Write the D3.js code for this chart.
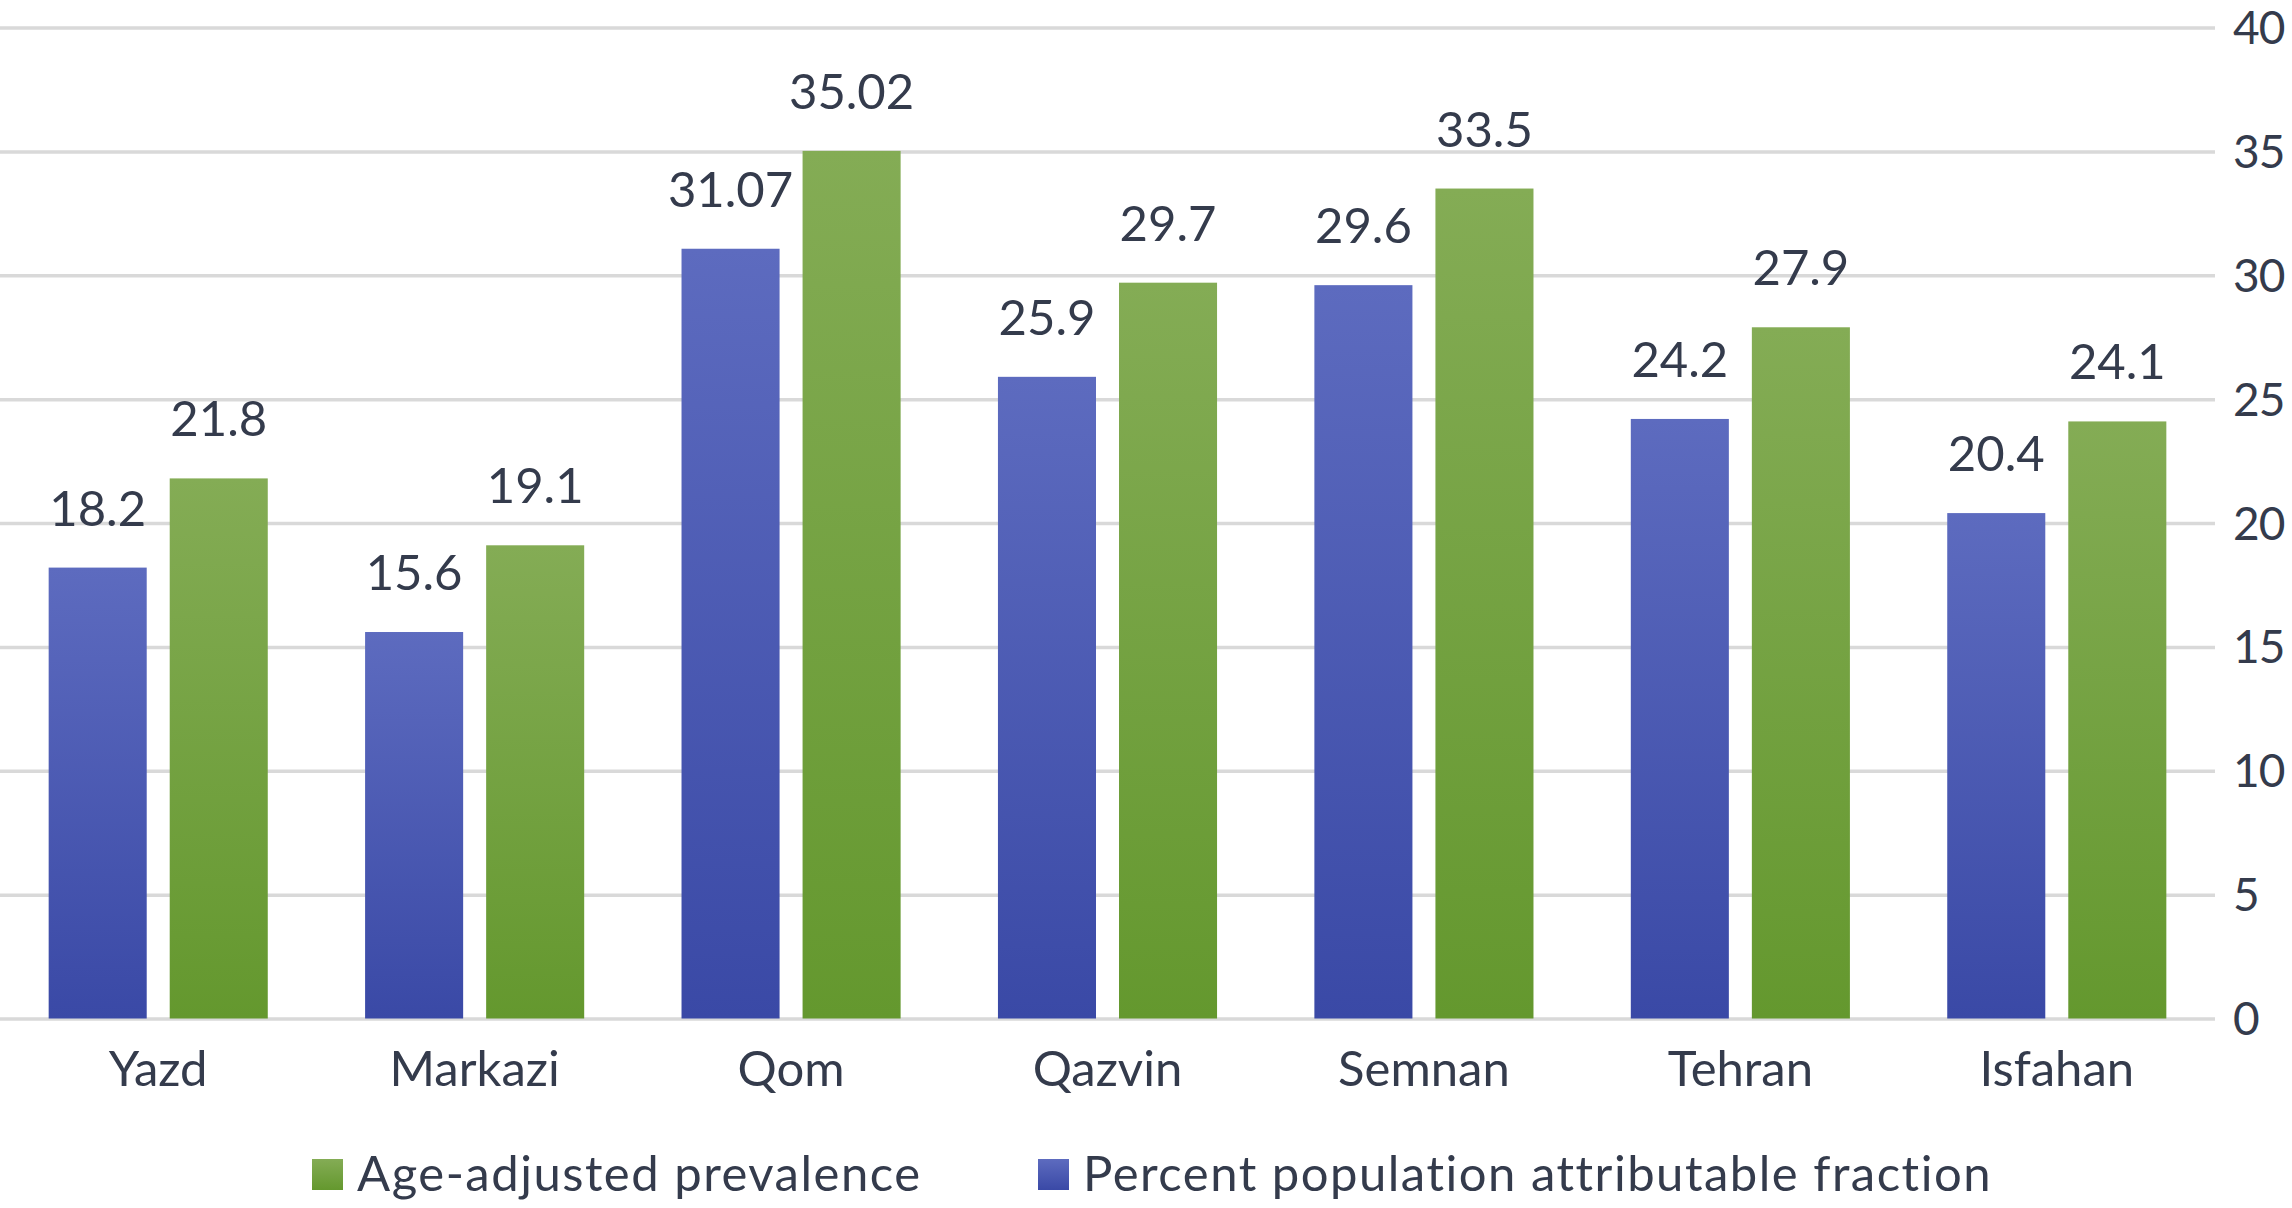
<!DOCTYPE html>
<html>
<head>
<meta charset="utf-8">
<script src="https://cdn.jsdelivr.net/npm/d3@7"></script>
<style>
  html, body { margin: 0; padding: 0; background: #ffffff; }
  svg { display: block; }
  text { font-family: Lato, "Open Sans", sans-serif; fill: #343b4c; }
</style>
</head>
<body>
<svg id="chart" width="2292" height="1208"></svg>
<script>
const categories = ["Yazd", "Markazi", "Qom", "Qazvin", "Semnan", "Tehran", "Isfahan"];
const seriesNames = ["Percent population attributable fraction", "Age-adjusted prevalence"];
const pafValues = [18.2, 15.6, 31.07, 25.9, 29.6, 24.2, 20.4];
const prevalenceValues = [21.8, 19.1, 35.02, 29.7, 33.5, 27.9, 24.1];
const yTicks = [0, 5, 10, 15, 20, 25, 30, 35, 40];
const legendOrder = ["Age-adjusted prevalence", "Percent population attributable fraction"];

const seriesValues = {
  "Percent population attributable fraction": pafValues,
  "Age-adjusted prevalence": prevalenceValues
};

const W = 2292, H = 1208;
const plot = { left: 0, right: 2215, top: 27.5, bottom: 1018.5 };
const FS = 49;

const svg = d3.select("#chart");
const defs = svg.append("defs");

const grads = {
  "Percent population attributable fraction": ["#5d6bbf", "#3a49a6"],
  "Age-adjusted prevalence": ["#84ac55", "#64982e"]
};
const gradId = {};
seriesNames.forEach((s, i) => {
  const id = "grad" + i;
  gradId[s] = id;
  const g = defs.append("linearGradient").attr("id", id)
    .attr("x1", 0).attr("y1", 0).attr("x2", 0).attr("y2", 1);
  g.append("stop").attr("offset", "0%").attr("stop-color", grads[s][0]);
  g.append("stop").attr("offset", "100%").attr("stop-color", grads[s][1]);
});

const y = d3.scaleLinear().domain([0, 40]).range([plot.bottom, plot.top]);
const x = d3.scaleBand().domain(categories).range([plot.left, plot.right]).padding(0);
const xs = d3.scaleBand().domain(seriesNames).range([0, x.bandwidth()])
  .paddingInner(0.19).paddingOuter(0.402);

// gridlines + right axis labels
const yAxis = svg.append("g")
  .attr("transform", `translate(${plot.right},0)`)
  .call(d3.axisRight(y).tickValues(yTicks).tickSizeInner(-(plot.right - plot.left)).tickSizeOuter(0).tickPadding(18));
yAxis.select(".domain").remove();
yAxis.selectAll(".tick line").attr("stroke", "#d9d9d9").attr("stroke-width", 3.5);
yAxis.selectAll(".tick text").style("font-size", "46px").style("letter-spacing", "-1px")
  .attr("text-anchor", "start").attr("dy", "0.35em");

// bars
const groups = svg.append("g").selectAll("g").data(categories).join("g")
  .attr("transform", d => `translate(${x(d)},0)`);

groups.selectAll("rect")
  .data((d, i) => seriesNames.map(s => ({ s, v: seriesValues[s][i] })))
  .join("rect")
  .attr("x", d => xs(d.s))
  .attr("width", xs.bandwidth())
  .attr("y", d => y(d.v))
  .attr("height", d => y(0) - y(d.v))
  .attr("fill", d => `url(#${gradId[d.s]})`);

groups.selectAll("text.lbl")
  .data((d, i) => seriesNames.map(s => ({ s, v: seriesValues[s][i] })))
  .join("text")
  .attr("class", "lbl")
  .attr("x", d => xs(d.s) + xs.bandwidth() / 2)
  .attr("y", d => y(d.v) - 42)
  .attr("text-anchor", "middle")
  .style("font-size", FS + "px")
  .text(d => String(d.v));

// category axis
const xAxis = svg.append("g")
  .attr("transform", `translate(0,${plot.bottom})`)
  .call(d3.axisBottom(x).tickSize(0).tickPadding(33));
xAxis.select(".domain").remove();
xAxis.selectAll(".tick text").style("font-size", FS + "px");

// legend
const legend = svg.append("g").attr("transform", "translate(0,1191)");
const legendItems = [
  { name: legendOrder[0], x: 312 },
  { name: legendOrder[1], x: 1038 }
];
const li = legend.selectAll("g").data(legendItems).join("g")
  .attr("transform", d => `translate(${d.x},0)`);
li.append("rect").attr("x", 0).attr("y", -32).attr("width", 31).attr("height", 31)
  .attr("fill", d => `url(#${gradId[d.name]})`);
li.append("text").attr("x", 45).attr("y", 0).style("font-size", FS + "px")
  .style("letter-spacing", "1.5px").text(d => d.name);
</script>
</body>
</html>
